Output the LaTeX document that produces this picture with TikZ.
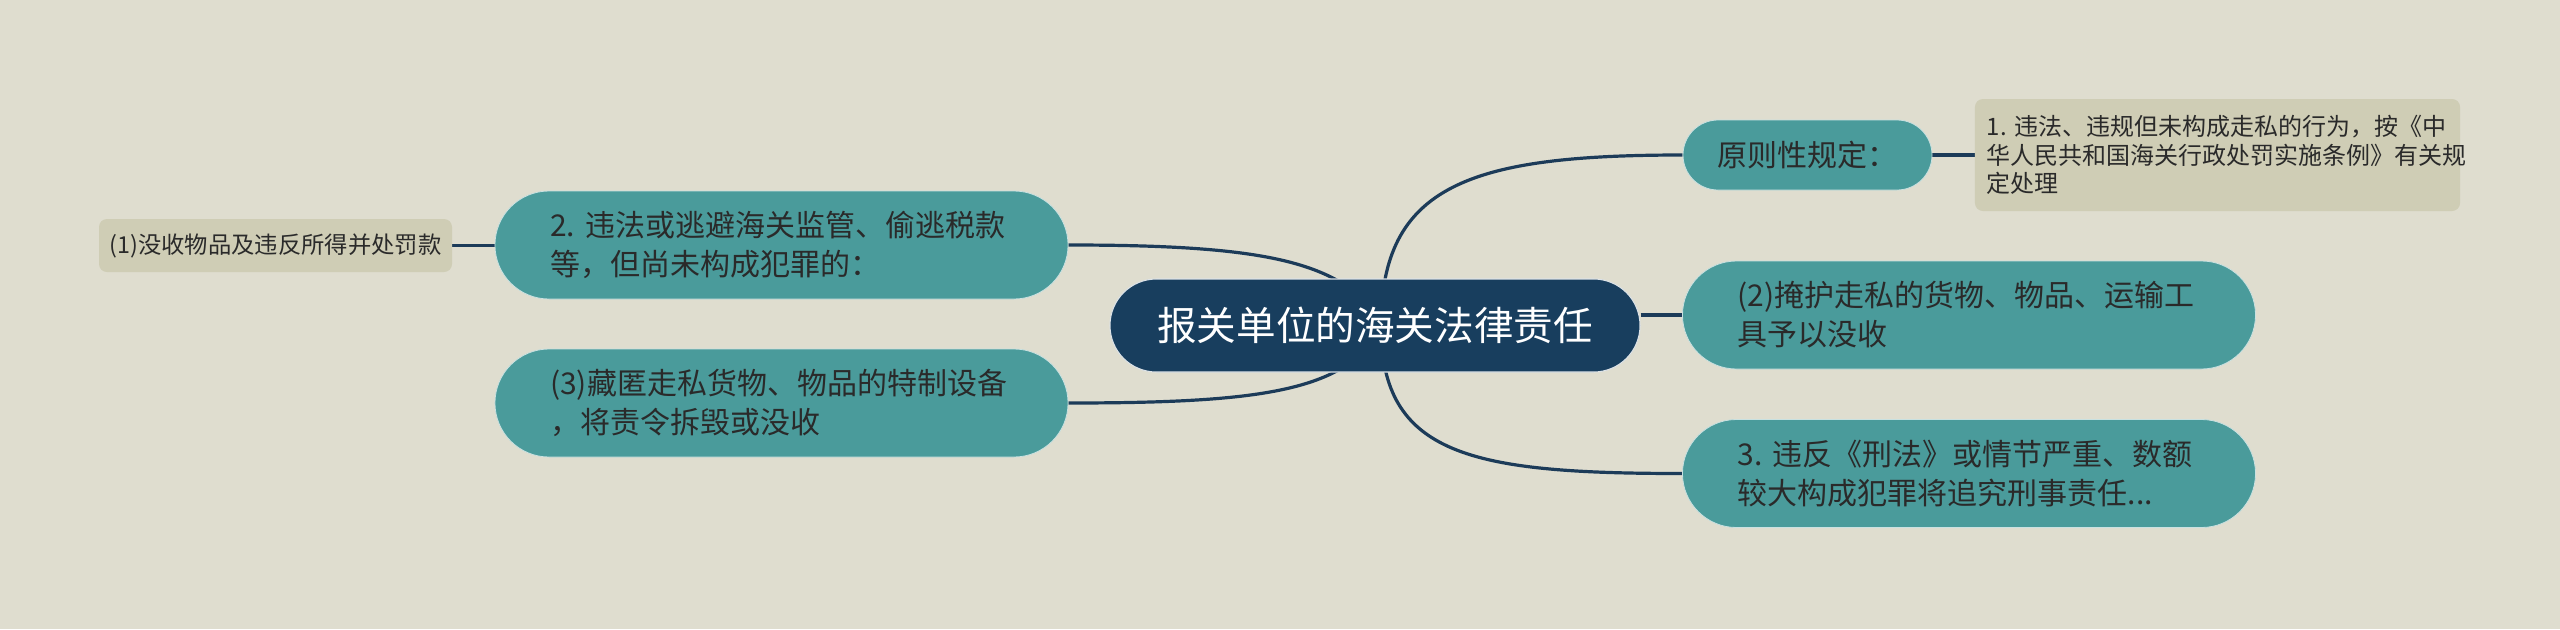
\documentclass[tikz,border=0pt]{standalone}
\usepackage{fontspec}
\setmainfont{Noto Sans CJK SC}
\newfontfamily\cjk{Noto Sans CJK SC}
\definecolor{bgc}{HTML}{DFDDCF}
\definecolor{navy}{HTML}{183E5E}
\definecolor{teal2}{HTML}{4A9B9B}
\definecolor{leafc}{HTML}{CFCDB5}
\definecolor{linec}{HTML}{1C3B59}
\definecolor{txt}{HTML}{2A2A2A}
\pgfdeclarelayer{back}
\pgfdeclarelayer{bg}
\pgfsetlayers{back,bg,main}
\frenchspacing
\tikzset{
  central/.style={fill=navy, draw=white!85!navy, line width=0.8pt, rounded corners=34.8pt,
    minimum width=397.5pt, minimum height=69.75pt, inner sep=0pt, text=white,
    font=\cjk\fontsize{29.7pt}{36pt}\selectfont},
  topic/.style={fill=teal2, draw=white!70!teal2, line width=0.6pt, rounded corners=40.5pt,
    minimum height=81pt, inner ysep=0pt, inner xsep=41.4pt, text width=347pt, align=left, text=txt,
    font=\cjk\fontsize{22.5pt}{29.25pt}\selectfont},
  topicsmall/.style={fill=teal2, draw=white!70!teal2, line width=0.6pt, rounded corners=26.25pt,
    minimum width=186.75pt, minimum height=52.5pt, inner sep=0pt, align=center, text=txt,
    font=\cjk\fontsize{22.5pt}{29.25pt}\selectfont},
  leaf/.style={fill=leafc, rounded corners=6pt, inner ysep=0pt, text=txt},
  conn/.style={draw=linec, line width=2.4pt},
}
\begin{document}
\begin{tikzpicture}[x=0.75pt,y=-0.75pt]
\useasboundingbox (0,0) rectangle (2560,629);
\begin{pgfonlayer}{back}
\fill[bgc] (0,0) rectangle (2560,629);
\end{pgfonlayer}

\node[central] (c) at (1375,325.5) {报关单位的海关法律责任};

\node[topicsmall] (yz) at (1807.5,155) {原则性规定：};
\node[leaf, minimum width=363.75pt, minimum height=84pt, inner xsep=8.9pt, text width=346pt, align=left,
  font=\cjk\fontsize{18pt}{21.2pt}\selectfont] (la) at (2217.5,155)
  {1. 违法、违规但未构成走私的行为，按《中\\华人民共和国海关行政处罚实施条例》有关规\\定处理};

\node[topic] (r2) at (1969,315) {(2)掩护走私的货物、物品、运输工\\具予以没收};
\node[topic] (r3) at (1969,473.5) {3. 违反《刑法》或情节严重、数额\\较大构成犯罪将追究刑事责任...};

\node[topic] (l2) at (781.5,245) {2. 违法或逃避海关监管、偷逃税款\\等，但尚未构成犯罪的：};
\node[topic] (l3) at (781.5,403) {(3)藏匿走私货物、物品的特制设备\\，将责令拆毁或没收};

\node[leaf, minimum width=264.75pt, minimum height=39.75pt, inner xsep=6pt, align=center,
  font=\cjk\fontsize{17.5pt}{21pt}\selectfont] (lb) at (275.5,245.5) {(1)没收物品及违反所得并处罚款};

\coordinate (cr) at (1381,326);
\coordinate (cl) at (1385,326);

\begin{pgfonlayer}{bg}
\draw[conn] (cr) .. controls (1381,185) and (1470,155) .. (yz.west);
\draw[conn] (cr) .. controls (1381,455) and (1470,473.5) .. (r3.west);
\draw[conn] (c.east |- r2.west) -- (r2.west);
\draw[conn] (l2.east) .. controls (1270,245) and (1345,262) .. (cl);
\draw[conn] (l3.east) .. controls (1270,403) and (1345,390) .. (cl);
\draw[conn] (yz.east) -- (la.west);
\draw[conn] (lb.east) -- (lb.east -| l2.west);
\end{pgfonlayer}
\end{tikzpicture}
\end{document}
